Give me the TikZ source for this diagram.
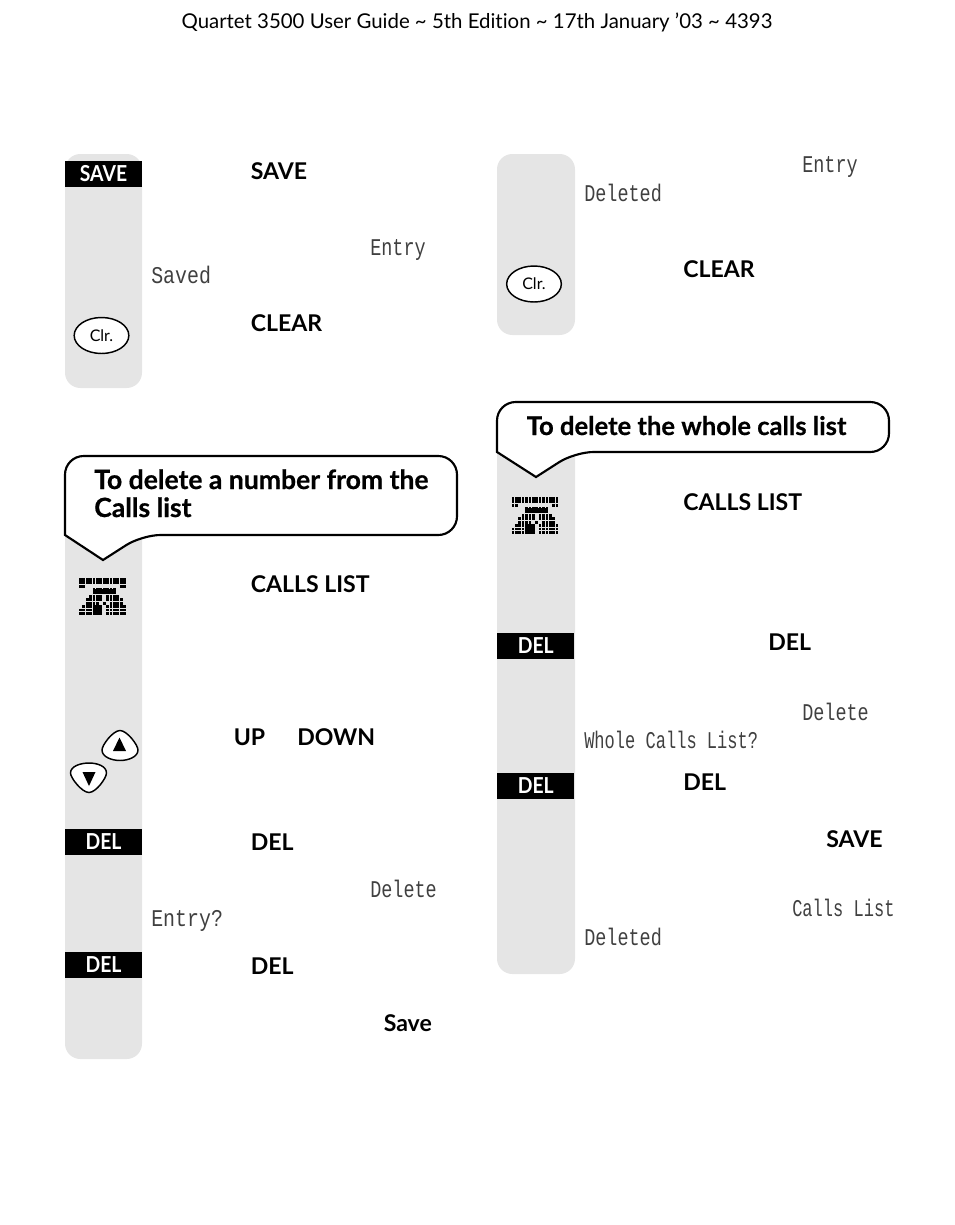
\documentclass[tikz,border=0pt]{standalone}
\usepackage{fontspec}
\setmainfont[Ligatures=NoCommon]{Lato}
\newfontfamily\lcdfont[FakeStretch=0.77]{Liberation Mono}
\newfontfamily\lcdnarrow[FakeStretch=0.71]{Liberation Mono}
\newfontfamily\lcdwide[FakeStretch=0.83]{Liberation Mono}
\newfontfamily\keyfont[FakeStretch=0.88]{Lato}
\newfontfamily\headfont[FakeBold=0.6]{Lato Bold}
\usetikzlibrary{shapes.geometric}
\definecolor{stripgrey}{gray}{0.9}
\tikzset{
  strip/.style={fill=stripgrey, rounded corners=11.5},
  softkey/.style={fill=black, text=white, minimum width=58.1pt, minimum height=19.5pt, inner sep=0, font=\fontsize{16.5}{18}\keyfont\bfseries},
  keyword/.style={anchor=base west, inner sep=0, font=\fontsize{17.3}{20}\selectfont\bfseries},
  lcdword/.style={anchor=base west, inner sep=0, font=\fontsize{18}{20}\lcdfont\color{black!75}},
  lcdlong/.style={lcdword, font=\fontsize{18}{20}\lcdnarrow\color{black!75}},
  lcdshort/.style={lcdword, font=\fontsize{18}{20}\lcdwide\color{black!75}},
  clrkey/.style={draw, ellipse, fill=white, line width=1.1, minimum width=41pt, minimum height=27pt, inner sep=0, font=\fontsize{12}{14}\selectfont},
  callout/.style={draw, fill=white, line width=1.6, line join=miter},
  headword/.style={anchor=base west, inner sep=0, align=left, font=\fontsize{19.9}{21}\headfont}
}
% one row of the phone icon: row number, then the columns that are dark
\def\pixrow#1#2{\foreach \i in {#2} \fill (\i*3.4,#1*3.4) rectangle +(2.7,2.7);}
\def\phoneicon(#1,#2){\begin{scope}[shift={(#1,#2)}]
  \pixrow{0}{0,...,13}
  \pixrow{1}{0,...,13}
  \pixrow{2}{0,1,12,13}
  \pixrow{3}{4,...,10}
  \pixrow{4}{4,...,10}
  \pixrow{5}{3,4,5,6,8,9,10,11}
  \pixrow{6}{2,3,4,5,6,8,9,10,11,12}
  \pixrow{7}{2,3,4,5,7,9,10,11,12}
  \pixrow{8}{1,2,3,4,5,6,8,9,10,11,12,13}
  \pixrow{9}{0,1,2,3,4,5,6,8,9,10,11,12,13}
  \pixrow{10}{0,1,2,3,4,5,6,8,9,10,11,12,13}
  \fill (4*3.4,3.3*3.4) rectangle (10.8*3.4,5*3.4-.7);
  \fill (4*3.4,8*3.4) rectangle (6.8*3.4,11*3.4-.7);
\end{scope}}
\begin{document}
\begin{tikzpicture}[x=0.75pt,y=-0.75pt]
  \useasboundingbox (0,0) rectangle (954,1225);

  % title
  \node[anchor=base, inner sep=0, font=\fontsize{15.3}{18}\selectfont] (title) at (477,28) {Quartet 3500 User Guide \textasciitilde{} 5th Edition \textasciitilde{} 17th January ’03 \textasciitilde{} 4393};

  % grey strips
  \fill[strip] (65,154) rectangle (142,388);
  \fill[strip] (497,154) rectangle (575,335);
  \fill[strip] (65,500) rectangle (142,1059);
  \fill[strip] (497,430) rectangle (575,974);

  % callouts
  \draw[callout] (65,535) [rounded corners=14] -- (65,456) -- (457,456) -- (457,535) -- (142,535) [sharp corners] -- (103,560) -- cycle;
  \draw[callout] (497,452) [rounded corners=14] -- (497,402) -- (889,402) -- (889,452) -- (575,452) [sharp corners] -- (536,477) -- cycle;
  \node[headword] (delnum) at (94,517) {To delete a number from the\\Calls list};
  \node[headword, font=\fontsize{19.2}{21}\headfont] (delall) at (526.5,435) {To delete the whole calls list};

  % soft keys
  \node[softkey] (savekey) at (103.5,173.5) {SAVE};
  \node[softkey] (delkeya) at (103.5,842) {DEL};
  \node[softkey] (delkeyb) at (103.5,965) {DEL};
  \node[softkey] (delkeyc) at (535.75,646) {DEL};
  \node[softkey] (delkeyd) at (535.75,786) {DEL};

  % clear keys
  \node[clrkey] (clrkeya) at (101.5,335.5) {Clr.};
  \node[clrkey] (clrkeyb) at (534,284) {Clr.};

  % arrow keys
  \draw[fill=white, line width=1.1] (120,730.5) .. controls (127,730.5) and (138,745) .. (138,750) .. controls (138,757) and (128,760.5) .. (120,760.5) .. controls (112,760.5) and (102,757) .. (102,750) .. controls (102,745) and (113,730.5) .. (120,730.5) -- cycle;
  \fill (119.5,737.5) -- (126,751) -- (113,751) -- cycle;
  \draw[fill=white, line width=1.1] (89,792.5) .. controls (96,792.5) and (106.5,778) .. (106.5,773) .. controls (106.5,766) and (97,763) .. (89,763) .. controls (81,763) and (70.5,766) .. (70.5,773) .. controls (70.5,778) and (82,792.5) .. (89,792.5) -- cycle;
  \fill (89,786) -- (95.5,772) -- (82.5,772) -- cycle;

  % phone icons
  \phoneicon(79,578)
  \phoneicon(511.5,497)

  % left column words
  \node[keyword] (savea) at (250.5,179) {SAVE};
  \node[keyword] (cleara) at (250.5,331) {CLEAR};
  \node[keyword] (callsa) at (250.5,592) {CALLS LIST};
  \node[keyword] (upa) at (233.5,745) {UP};
  \node[keyword] (downa) at (297,745) {DOWN};
  \node[keyword] (dela) at (250.5,850) {DEL};
  \node[keyword] (delb) at (250.5,974) {DEL};
  \node[keyword] (savelow) at (383.5,1031) {Save};

  % right column words
  \node[keyword] (clearb) at (683,277) {CLEAR};
  \node[keyword] (callsb) at (683,510) {CALLS LIST};
  \node[keyword] (delc) at (768,650) {DEL};
  \node[keyword] (deld) at (683,790) {DEL};
  \node[keyword] (saveb) at (826,847) {SAVE};

  % display messages
  \node[lcdword] (entrya) at (370,255) {Entry};
  \node[lcdshort] (saved) at (151,283) {Saved};
  \node[lcdword] (deletea) at (370,897) {Delete};
  \node[lcdshort] (entryb) at (151,926) {Entry?};
  \node[lcdword] (entryc) at (802,172) {Entry};
  \node[lcdword] (deleteda) at (584,201) {Deleted};
  \node[lcdword] (deleteb) at (802,720) {Delete};
  \node[lcdlong] (wholelist) at (584,748) {Whole Calls List?};
  \node[lcdlong] (callslist) at (792,916) {Calls List};
  \node[lcdword] (deletedb) at (584,945) {Deleted};
\end{tikzpicture}
\end{document}
